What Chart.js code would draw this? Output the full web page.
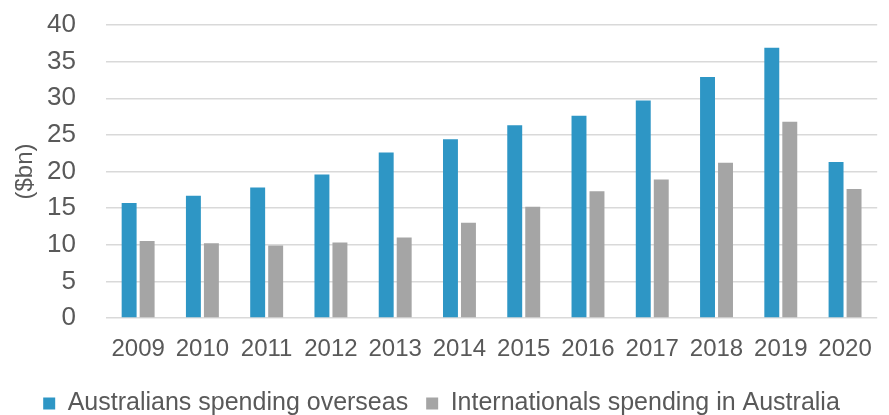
<!DOCTYPE html>
<html>
<head>
<meta charset="utf-8">
<script src="https://cdn.jsdelivr.net/npm/chart.js@4"></script>
<style>
    body { margin: 0; background: #fff; }
</style>
</head>
<body>
<canvas id="bar" width="889" height="415"></canvas>
<script>
// spending by year ($bn)
const yearArr = ['2009', '2010', '2011', '2012', '2013', '2014', '2015', '2016', '2017', '2018', '2019', '2020'];
const overseasArr = [15.7, 16.7, 17.8, 19.6, 22.6, 24.4, 26.3, 27.6, 29.7, 32.9, 36.9, 21.3];
const inboundArr = [10.5, 10.2, 9.9, 10.3, 11.0, 13.0, 15.2, 17.3, 18.9, 21.2, 26.8, 17.6];
const seriesNames = ['Australians spending overseas', 'Internationals spending in Australia'];

const textColor = '#595959';
const fontFamily = '"Liberation Sans", Arial, sans-serif';

// bar chart
function spendingChart(){
    new Chart(document.getElementById("bar"), {
        type: 'bar',
        data: {
            labels: yearArr,
            datasets: [
                {
                    data: overseasArr,
                    label: seriesNames[0],
                    backgroundColor: "#2E96C5",
                    categoryPercentage: 0.56,
                    barPercentage: 0.83,
                },
                {
                    data: inboundArr,
                    label: seriesNames[1],
                    backgroundColor: "#A5A5A5",
                    categoryPercentage: 0.56,
                    barPercentage: 0.83,
                },
            ],
        },
        options: {
            responsive: false,
            animation: false,
            layout: {
                padding: { left: 0, right: 6, top: 0, bottom: -11 }
            },
            plugins: {
                tooltip: { enabled: false },
                legend: {
                    position: 'bottom',
                    labels: {
                        boxWidth: 12,
                        boxHeight: 12,
                        padding: 18,
                        color: textColor,
                        font: { family: fontFamily, size: 25 }
                    }
                }
            },
            scales: {
                x: {
                    afterFit: function(scale) {
                        scale.height = 55;
                    },
                    grid: { display: false, drawTicks: false },
                    border: { display: false },
                    ticks: {
                        color: textColor,
                        padding: 17,
                        maxRotation: 0,
                        font: { family: fontFamily, size: 24 }
                    }
                },
                y: {
                    min: 0,
                    max: 40,
                    afterFit: function(scale) {
                        // fixed axis width, and only half a label of room above the top tick
                        scale.width = 106;
                        scale.paddingTop = 25;
                    },
                    grid: { color: '#D9D9D9', lineWidth: 1.5, drawTicks: false },
                    border: { display: false },
                    title: {
                        display: true,
                        text: '($bn)',
                        color: textColor,
                        padding: { top: 11, bottom: 0 },
                        font: { family: fontFamily, size: 24 }
                    },
                    ticks: {
                        stepSize: 5,
                        color: textColor,
                        padding: 30,
                        font: { family: fontFamily, size: 26 }
                    }
                }
            }
        }
    });
}

spendingChart();
</script>
</body>
</html>
